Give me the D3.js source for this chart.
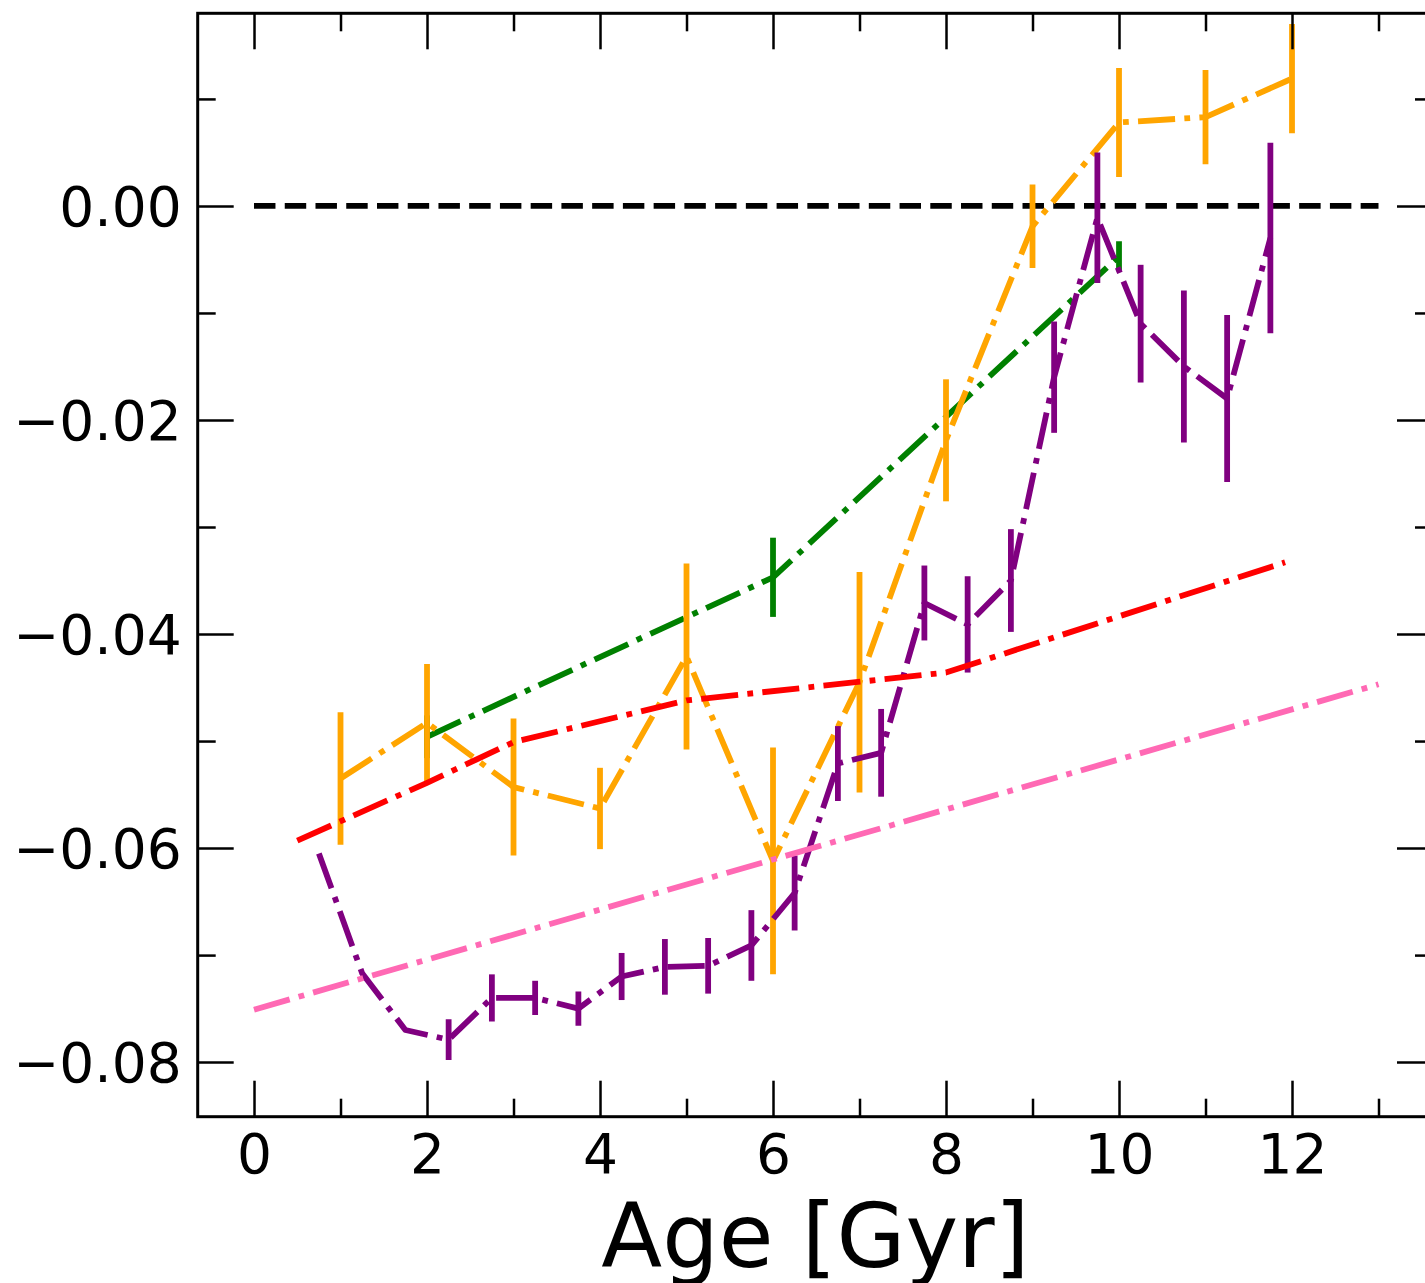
<!DOCTYPE html>
<html>
<head>
<meta charset="utf-8">
<script src="https://cdn.jsdelivr.net/npm/d3@7"></script>
<style>
  html, body { margin: 0; padding: 0; background: #fff; }
  svg { display: block; font-family: "DejaVu Sans", sans-serif; }
</style>
</head>
<body>
<svg id="chart" width="1425" height="1283"></svg>
<script>
// age grids and values
const orangeAge = [1, 2, 3, 4, 5, 6, 7, 8, 9, 10, 11, 12];
const orangeVal = [-0.0535, -0.0483, -0.0543, -0.0563, -0.0421, -0.0612, -0.0445, -0.0219, -0.0019, 0.0078, 0.0083, 0.0119];
const orangeErr = [0.0062, 0.0055, 0.0064, 0.0038, 0.0087, 0.0106, 0.0103, 0.0057, 0.0039, 0.0051, 0.0044, 0.0051];

const purpleAge = [0.75, 1.25, 1.75, 2.25, 2.75, 3.25, 3.75, 4.25, 4.75, 5.25, 5.75, 6.25,
                   6.75, 7.25, 7.75, 8.25, 8.75, 9.25, 9.75, 10.25, 10.75, 11.25, 11.75];
const purpleVal = [-0.0605, -0.0717, -0.0770, -0.0779, -0.0740, -0.0740, -0.0750, -0.0720, -0.0711, -0.0710, -0.0691, -0.0642,
                   -0.0521, -0.0511, -0.0371, -0.0391, -0.0350, -0.0160, -0.0011, -0.0110, -0.0150, -0.0180, -0.0030];
const purpleErr = [0, 0, 0, 0.0019, 0.0022, 0.0016, 0.0016, 0.0022, 0.0026, 0.0026, 0.0033, 0.0035,
                   0.0035, 0.0041, 0.0035, 0.0045, 0.0048, 0.0052, 0.0061, 0.0055, 0.0071, 0.0078, 0.0089];

const greenAge = [2, 6, 10];
const greenVal = [-0.0496, -0.0347, -0.0047];
const greenErr = [0.0020, 0.0037, 0.0014];

const redAge = [0.5, 2, 3, 5, 8, 11.92];
const redVal = [-0.0593, -0.0539, -0.0501, -0.0462, -0.0436, -0.0333];

const pinkAge = [0, 13];
const pinkVal = [-0.0751, -0.0447];

const refAge = [0, 13];
const refVal = [0, 0];

const xMajor = [0, 2, 4, 6, 8, 10, 12];
const xMinor = [1, 3, 5, 7, 9, 11, 13];
const yMajor = [-0.08, -0.06, -0.04, -0.02, 0.00];
const yMinor = [-0.07, -0.05, -0.03, -0.01, 0.01];

const svg = d3.select("#chart");
const box = { left: 197.7, right: 1433, top: 13.3, bottom: 1116.7 };

const x = d3.scaleLinear().domain([-0.651, 13.63]).range([box.left, box.right]);
const y = d3.scaleLinear().domain([-0.0851, 0.0180]).range([box.bottom, box.top]);

const lw = 5.8;
const dashDot = [6.4, 1.6, 1, 1.6].map(v => v * lw).join(",");
const dashed = [3.7, 1.6].map(v => v * lw).join(",");

svg.append("clipPath").attr("id", "plotClip")
  .append("rect")
  .attr("x", box.left).attr("y", box.top)
  .attr("width", box.right - box.left).attr("height", box.bottom - box.top);

const plot = svg.append("g").attr("clip-path", "url(#plotClip)");

function series(ages, vals, errs) {
  return ages.map((a, i) => ({ age: a, val: vals[i], err: errs ? errs[i] : 0 }));
}

function drawLine(data, color, dash) {
  const line = d3.line().x(d => x(d.age)).y(d => y(d.val));
  plot.append("path")
    .datum(data)
    .attr("d", line)
    .attr("fill", "none")
    .attr("stroke", color)
    .attr("stroke-width", lw)
    .attr("stroke-dasharray", dash)
    .attr("stroke-linejoin", "round");
}

function drawErrors(data, color) {
  plot.append("g")
    .selectAll("line")
    .data(data.filter(d => d.err > 0))
    .enter().append("line")
    .attr("x1", d => x(d.age))
    .attr("x2", d => x(d.age))
    .attr("y1", d => y(d.val - d.err))
    .attr("y2", d => y(d.val + d.err))
    .attr("stroke", color)
    .attr("stroke-width", lw);
}

drawLine(series(refAge, refVal), "black", dashed);

const green = series(greenAge, greenVal, greenErr);
drawLine(green, "green", dashDot);
drawErrors(green, "green");

const orange = series(orangeAge, orangeVal, orangeErr);
drawLine(orange, "orange", dashDot);
drawErrors(orange, "orange");

const purple = series(purpleAge, purpleVal, purpleErr);
drawLine(purple, "purple", dashDot);
drawErrors(purple, "purple");

drawLine(series(redAge, redVal), "red", dashDot);
drawLine(series(pinkAge, pinkVal), "hotpink", dashDot);

// axes: ticks pointing inward on all four sides
function styleAxis(g, width) {
  g.select(".domain").remove();
  g.selectAll(".tick line").attr("stroke", "black").attr("stroke-width", width);
  g.selectAll(".tick text").attr("fill", "black").attr("font-size", "55px")
    .attr("font-family", "DejaVu Sans");
}

const fmt = d3.format(".2f");

svg.append("g").attr("transform", `translate(0,${box.bottom})`)
  .call(d3.axisBottom(x).tickValues(xMajor).tickSize(-36).tickPadding(17).tickFormat(d3.format("d")))
  .call(g => styleAxis(g, 2.5));
svg.append("g").attr("transform", `translate(0,${box.bottom})`)
  .call(d3.axisBottom(x).tickValues(xMinor).tickSize(-18).tickFormat(""))
  .call(g => styleAxis(g, 2.5));
svg.append("g").attr("transform", `translate(0,${box.top})`)
  .call(d3.axisTop(x).tickValues(xMajor).tickSize(-36).tickFormat(""))
  .call(g => styleAxis(g, 2.5));
svg.append("g").attr("transform", `translate(0,${box.top})`)
  .call(d3.axisTop(x).tickValues(xMinor).tickSize(-18).tickFormat(""))
  .call(g => styleAxis(g, 2.5));

svg.append("g").attr("transform", `translate(${box.left},0)`)
  .call(d3.axisLeft(y).tickValues(yMajor).tickSize(-36).tickPadding(16).tickFormat(fmt))
  .call(g => styleAxis(g, 2.5))
  .call(g => g.selectAll(".tick text").attr("dy", "0.36em"));
svg.append("g").attr("transform", `translate(${box.left},0)`)
  .call(d3.axisLeft(y).tickValues(yMinor).tickSize(-18).tickFormat(""))
  .call(g => styleAxis(g, 2.5));
svg.append("g").attr("transform", `translate(${box.right},0)`)
  .call(d3.axisRight(y).tickValues(yMajor).tickSize(-36).tickFormat(""))
  .call(g => styleAxis(g, 2.5));
svg.append("g").attr("transform", `translate(${box.right},0)`)
  .call(d3.axisRight(y).tickValues(yMinor).tickSize(-18).tickFormat(""))
  .call(g => styleAxis(g, 2.5));

svg.append("rect")
  .attr("x", box.left).attr("y", box.top)
  .attr("width", box.right - box.left).attr("height", box.bottom - box.top)
  .attr("fill", "none").attr("stroke", "black").attr("stroke-width", 3);

svg.append("text")
  .attr("x", (box.left + box.right) / 2)
  .attr("y", 1266.7)
  .attr("text-anchor", "middle")
  .attr("font-size", "89px")
  .attr("fill", "black")
  .text("Age [Gyr]");
</script>
</body>
</html>
